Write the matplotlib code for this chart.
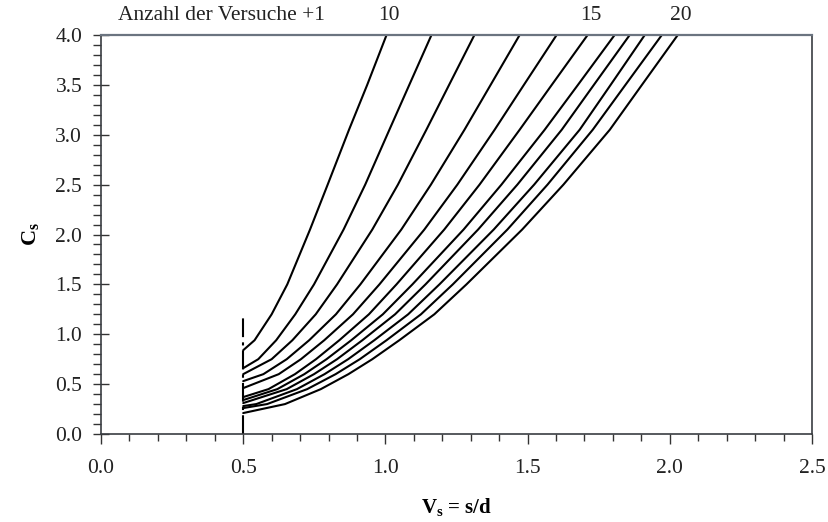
import numpy as np
import matplotlib
matplotlib.use("Agg")
import matplotlib.pyplot as plt
from matplotlib.ticker import MultipleLocator, FormatStrFormatter

# DATA
# one curve per "Anzahl der Versuche +1" value
curve_ids = [10, 11, 12, 13, 14, 15, 16, 17, 18, 19, 20]
labelled_ids = [10, 15, 20]
x_start = 0.5
# C_s where each curve begins at V_s = 0.5
start_cs = [0.84, 0.66, 0.60, 0.53, 0.46, 0.37, 0.34, 0.31, 0.28, 0.26, 0.21]
cs_levels = [0.30, 0.45, 0.60, 0.75, 0.94, 1.20, 1.50, 2.05, 2.50, 3.05, 3.50, 4.00]
nan = np.nan
vs_at_levels = [
    [nan, nan, nan, nan, 0.540, 0.600, 0.655, 0.735, 0.797, 0.872, 0.936, 1.004],
    [nan, nan, nan, 0.553, 0.616, 0.683, 0.749, 0.853, 0.929, 1.014, 1.084, 1.162],
    [nan, nan, nan, 0.600, 0.673, 0.755, 0.830, 0.954, 1.044, 1.144, 1.224, 1.313],
    [nan, nan, 0.571, 0.653, 0.732, 0.826, 0.912, 1.056, 1.160, 1.278, 1.370, 1.472],
    [nan, nan, 0.625, 0.703, 0.785, 0.886, 0.979, 1.137, 1.253, 1.384, 1.487, 1.602],
    [nan, 0.589, 0.682, 0.756, 0.838, 0.942, 1.039, 1.207, 1.331, 1.472, 1.585, 1.711],
    [nan, 0.620, 0.715, 0.793, 0.880, 0.991, 1.095, 1.275, 1.408, 1.560, 1.677, 1.806],
    [nan, 0.653, 0.749, 0.830, 0.919, 1.034, 1.141, 1.326, 1.464, 1.620, 1.733, 1.859],
    [0.546, 0.689, 0.786, 0.869, 0.961, 1.080, 1.190, 1.381, 1.523, 1.683, 1.792, 1.912],
    [0.584, 0.725, 0.825, 0.910, 1.004, 1.125, 1.237, 1.429, 1.570, 1.729, 1.844, 1.972],
    [0.647, 0.773, 0.870, 0.954, 1.049, 1.172, 1.285, 1.481, 1.626, 1.789, 1.902, 2.028],
]
marker_line_top = 1.2

# FONTS
plt.rcParams['font.family'] = ['Liberation Serif', 'DejaVu Serif']
plt.rcParams['mathtext.fontset'] = 'custom'
plt.rcParams['mathtext.rm'] = 'Liberation Serif'
plt.rcParams['mathtext.bf'] = 'Liberation Serif:bold'

fig = plt.figure(figsize=(8.29, 5.22), dpi=100)
ax = fig.add_axes([101/829, 88/522, 711/829, 399/522])

# curves
for i, cid in enumerate(curve_ids):
    xs = np.array(vs_at_levels[i])
    ys = np.array(cs_levels)
    keep = ~np.isnan(xs)
    xs = np.concatenate([[x_start], xs[keep]])
    ys = np.concatenate([[start_cs[i]], ys[keep]])
    ax.plot(xs, ys, color='black', lw=1.5, solid_joinstyle='round',
            solid_capstyle='round')

# dash-dot marker at V_s = 0.5
ax.plot([x_start, x_start], [0, marker_line_top], color='black', lw=1.5,
        linestyle=(0, (9, 2.5, 1.5, 2.5)))

ax.set_xlim(0, 2.5)
ax.set_ylim(0, 4.0)

ax.xaxis.set_major_locator(MultipleLocator(0.5))
ax.xaxis.set_minor_locator(MultipleLocator(0.1))
ax.yaxis.set_major_locator(MultipleLocator(0.5))
ax.yaxis.set_minor_locator(MultipleLocator(0.1))
ax.xaxis.set_major_formatter(FormatStrFormatter('%.1f'))
ax.yaxis.set_major_formatter(FormatStrFormatter('%.1f'))

ax.tick_params(axis='x', which='major', direction='out', length=7, width=1,
               labelsize=15.5, pad=11, colors='#333333', labelcolor='#222222')
ax.tick_params(axis='x', which='minor', direction='out', length=5, width=1,
               colors='#333333')
ax.tick_params(axis='y', which='major', direction='inout', length=11, width=1,
               labelsize=15.5, pad=8, colors='#333333', labelcolor='#222222')
ax.tick_params(axis='y', which='minor', direction='out', length=6, width=1,
               colors='#333333')

for side in ['left', 'right', 'bottom']:
    ax.spines[side].set_color('#3a3d42')
    ax.spines[side].set_linewidth(1.2)
ax.spines['top'].set_color('#6b7480')
ax.spines['top'].set_linewidth(1.6)

ax.set_xlabel(r'$\mathbf{V_s}$ = s/d', fontsize=15, fontweight='bold', labelpad=13)
ax.set_ylabel(r'$\mathbf{C_s}$', fontsize=16, fontweight='bold', labelpad=10)

# labels above the top edge
ax.text(0.06, 4.1, 'Anzahl der Versuche +1', fontsize=15.5, ha='left', va='bottom',
        color='#222222')
for cid in labelled_ids:
    idx = curve_ids.index(cid)
    ax.text(vs_at_levels[idx][-1] + 0.01, 4.1, str(cid), fontsize=15.5,
            ha='center', va='bottom', color='#222222')

fig.savefig('out.png', dpi=100)
